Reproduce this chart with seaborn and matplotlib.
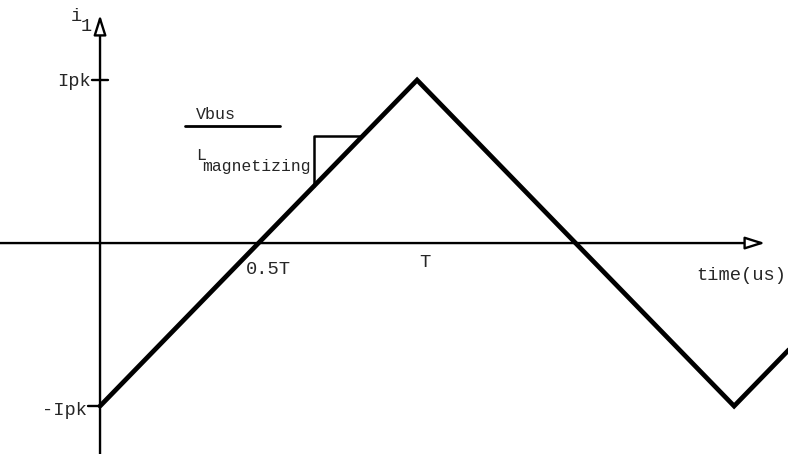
import numpy as np
import pandas as pd
import seaborn as sns
import matplotlib.pyplot as plt

# waveform corners (time in units of T, current in units of Ipk)
t_pts = [0.0, 1.0, 2.0, 2.5]
i_pts = [-1.0, 1.0, -1.0, 0.0]

x_ticks = [0.5, 1.0]
x_tick_labels = ['0.5T', 'T']
y_ticks = [1.0, -1.0]
y_tick_labels = ['Ipk', '-Ipk']

sns.set_style('white')
plt.rcParams['font.family'] = ['Liberation Mono', 'DejaVu Sans Mono']

df = pd.DataFrame({'t': t_pts, 'i': i_pts})

fig = plt.figure(figsize=(7.88, 4.54), dpi=100)
ax = fig.add_axes([0, 0, 1, 1])
ax.set_xlim(-0.3155, 2.170)
ax.set_ylim(-1.294, 1.491)
ax.axis('off')

sns.lineplot(data=df, x='t', y='i', ax=ax, color='black', linewidth=3.4,
             sort=False, solid_joinstyle='miter')

# axes with hollow arrow heads
arrow = dict(arrowstyle='-|>,head_length=1.2,head_width=0.38', fc='white',
             ec='black', lw=1.7, shrinkA=0, shrinkB=0)
ax.annotate('', xy=(2.098, 0.0), xytext=(-0.3155, 0.0), arrowprops=arrow)
ax.annotate('', xy=(0.0, 1.40), xytext=(0.0, -1.294), arrowprops=arrow)

# ticks
ax.plot([-0.025, 0.025], [1.0, 1.0], color='black', lw=1.7)
ax.plot([-0.038, 0.0], [-1.0, -1.0], color='black', lw=1.7)

fs = 13.5
ax.text(-0.03, 0.99, y_tick_labels[0], ha='right', va='center', fontsize=fs)
ax.text(-0.04, -1.03, y_tick_labels[1], ha='right', va='center', fontsize=fs)
ax.text(x_ticks[0] - 0.04, -0.16, x_tick_labels[0], ha='left', va='center', fontsize=fs)
ax.text(x_ticks[1] + 0.025, -0.12, x_tick_labels[1], ha='center', va='center', fontsize=fs)
ax.text(2.164, -0.2, 'time(us)', ha='right', va='center', fontsize=fs)

ax.text(-0.076, 1.39, 'i', ha='center', va='center', fontsize=fs)
ax.text(-0.042, 1.33, '1', ha='center', va='center', fontsize=fs)

# slope annotation Vbus / L_magnetizing
ax.text(0.303, 0.79, 'Vbus', ha='left', va='center', fontsize=12)
ax.plot([0.268, 0.568], [0.72, 0.72], color='black', lw=2)
ax.text(0.303, 0.54, 'L', ha='left', va='center', fontsize=12)
ax.text(0.322, 0.47, 'magnetizing', ha='left', va='center', fontsize=11.8)

# slope triangle
ax.plot([0.675, 0.675, 0.82], [0.35, 0.656, 0.656], color='black', lw=1.8)

fig.savefig('out.png', dpi=100)
